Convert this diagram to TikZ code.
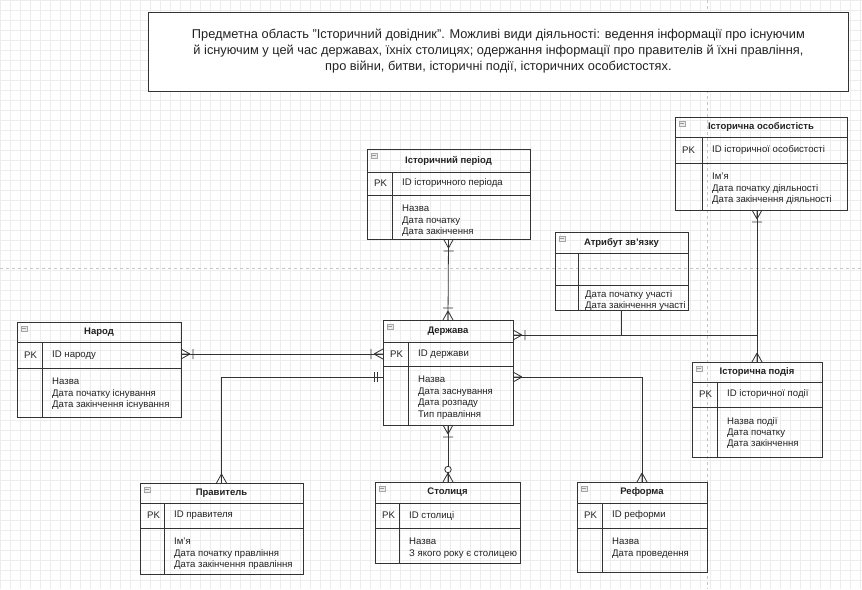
\documentclass[tikz,border=0pt]{standalone}
\usepackage{fontspec}
\setmainfont{Liberation Sans}
\usetikzlibrary{calc}
\definecolor{ln}{HTML}{333333}
\definecolor{tx}{HTML}{222222}
\definecolor{gridc}{HTML}{EDEDED}
\tikzset{
  ebox/.style={draw=ln, line width=0.8pt, inner sep=0pt, outer sep=0pt},
  eline/.style={draw=ln, line width=0.8pt},
  conn/.style={draw=ln, line width=0.8pt},
  ttl/.style={font=\fontsize{9.5}{11}\selectfont\bfseries, text=tx, inner sep=0pt},
  fld/.style={font=\fontsize{9.6}{11.4}\selectfont, text=tx, inner sep=0pt, align=left},
  manyE/.pic={\draw[conn] (0,-5)--(9,0) (0,5)--(9,0) (0,0)--(9,0) (12,-5)--(12,5);},
  crowE/.pic={\draw[conn] (0,-5)--(9,0) (0,5)--(9,0) (0,0)--(9,0);},
  oneE/.pic={\draw[conn] (6,-5)--(6,5) (9,-5)--(9,5);},
  zmanyE/.pic={\draw[conn] (0,-5)--(9,0) (0,5)--(9,0) (0,0)--(9,0); \draw[conn,fill=white] (12.5,0) circle (3.2);},
}
% name, x1, y1, x2, y2, yh, ypk, xd
\newcommand\erbox[8]{%
  \node[ebox, minimum width={#4-#2}, minimum height={#5-#3}, anchor=north west] (#1) at (#2,#3) {};
  \draw[eline] (#2,#6) -- (#4,#6) (#2,#7) -- (#4,#7) (#8,#6) -- (#8,#5);
  \coordinate (#1-t) at ({(#2+#4)/2},{(#3+#6)/2});
  \coordinate (#1-pk) at ({#2+7},{(#6+#7)/2});
  \coordinate (#1-id) at ({#8+10},{(#6+#7)/2});
  \coordinate (#1-b) at ({#8+10},{#7+10});
  \draw[gray!70, line width=0.5pt, fill=gray!15] ({#2+4},{#3+4}) rectangle ({#2+10},{#3+9});
  \draw[gray!80, line width=0.5pt] ({#2+5},{#3+6.5}) -- ({#2+9},{#3+6.5});
}
\begin{document}
\begin{tikzpicture}[x=1pt,y=-1pt]
\fill[white] (0,0) rectangle (862,589);
\useasboundingbox (0,0) rectangle (862,589);
\draw[gridc, line width=0.4pt, step=10pt] (0,0) grid (862,589);
\draw[gray!45, dashed, line width=0.6pt] (0,268) -- (862,268);
\draw[gray!45, dashed, line width=0.6pt] (707,0) -- (707,589);

% description box
\node[draw=ln, line width=0.8pt, fill=white, minimum width=700pt, minimum height=79pt, anchor=north west, inner sep=0pt] (desc) at (148,12) {};
\node[font=\fontsize{12.8}{15.8}\selectfont, text=tx, align=center] (desct) at ($(desc.center)+(0,-1)$) {Предметна область "Історичний довідник". Можливі види діяльності: ведення інформації про існуючим\\й існуючим у цей час державах, їхніх столицях; одержання інформації про правителів й їхні правління,\\про війни, битви, історичні події, історичних особистостях.};

% entities
\erbox{per}{367}{149}{530}{239}{172}{195}{392}
\node[ttl] at (per-t) {Історичний період};
\node[fld, anchor=west] at (per-pk) {PK};
\node[fld, anchor=west] at (per-id) {ID історичного періода};
\node[fld, anchor=north west] at (per-b) {Назва\\Дата початку\\Дата закінчення};

\erbox{osob}{675}{117}{847}{210}{137}{163}{702}
\node[ttl] at (osob-t) {Історична особистість};
\node[fld, anchor=west] at (osob-pk) {PK};
\node[fld, anchor=west] at (osob-id) {ID історичної особистості};
\node[fld, anchor=north west] at (osob-b) {Ім'я\\Дата початку діяльності\\Дата закінчення діяльності};

\erbox{atr}{555}{232}{688}{310}{253}{285}{578}
\node[ttl] at (atr-t) {Атрибут зв'язку};
\node[fld, anchor=north west] at ($(atr-b)+(-3,-5)$) {Дата початку участі\\Дата закінчення участі};

\erbox{nar}{17}{322}{181}{417}{342}{368}{42}
\node[ttl] at (nar-t) {Народ};
\node[fld, anchor=west] at (nar-pk) {PK};
\node[fld, anchor=west] at (nar-id) {ID народу};
\node[fld, anchor=north west] at (nar-b) {Назва\\Дата початку існування\\Дата закінчення існування};

\erbox{der}{383}{320}{513}{425}{342}{366}{408}
\node[ttl] at (der-t) {Держава};
\node[fld, anchor=west] at (der-pk) {PK};
\node[fld, anchor=west] at (der-id) {ID держави};
\node[fld, anchor=north west] at (der-b) {Назва\\Дата заснування\\Дата розпаду\\Тип правління};

\erbox{pod}{692}{362}{822}{457}{382}{407}{717}
\node[ttl] at (pod-t) {Історична подія};
\node[fld, anchor=west] at (pod-pk) {PK};
\node[fld, anchor=west] at (pod-id) {ID історичної події};
\node[fld, anchor=north west] at (pod-b) {Назва події\\Дата початку\\Дата закінчення};

\erbox{prav}{140}{483}{303}{574}{503}{528}{164}
\node[ttl] at (prav-t) {Правитель};
\node[fld, anchor=west] at (prav-pk) {PK};
\node[fld, anchor=west] at (prav-id) {ID правителя};
\node[fld, anchor=north west] at (prav-b) {Ім'я\\Дата початку правління\\Дата закінчення правління};

\erbox{stol}{375}{482}{520}{563}{503}{528}{399}
\node[ttl] at (stol-t) {Столиця};
\node[fld, anchor=west] at (stol-pk) {PK};
\node[fld, anchor=west] at (stol-id) {ID столиці};
\node[fld, anchor=north west] at (stol-b) {Назва\\З якого року є столицею};

\erbox{ref}{577}{482}{707}{572}{503}{528}{602}
\node[ttl] at (ref-t) {Реформа};
\node[fld, anchor=west] at (ref-pk) {PK};
\node[fld, anchor=west] at (ref-id) {ID реформи};
\node[fld, anchor=north west] at (ref-b) {Назва\\Дата проведення};

% connectors
\coordinate (derW1) at ($(der.north west)+(0,34)$);
\coordinate (derW2) at ($(der.north west)+(0,57)$);
\coordinate (derE1) at ($(der.north east)+(0,15)$);
\coordinate (derE2) at ($(der.north east)+(0,57)$);
\coordinate (podJ) at (pod.north |- derE1);

\draw[conn] (per.south) -- (der.north);
\pic[rotate=-90] at (per.south) {manyE};
\pic[rotate=90] at (der.north) {manyE};

\draw[conn] (nar.east |- derW1) -- (derW1);
\pic at (nar.east |- derW1) {manyE};
\pic[rotate=180] at (derW1) {manyE};

\draw[conn] (prav.north) |- (derW2);
\pic[rotate=90] at (prav.north) {crowE};
\pic[rotate=180] at (derW2) {oneE};

\draw[conn] (der.south) -- (der.south |- stol.north);
\pic[rotate=-90] at (der.south) {manyE};
\pic[rotate=90] at (der.south |- stol.north) {zmanyE};

\draw[conn] (derE2) -| (ref.north);
\pic at (derE2) {crowE};
\pic[rotate=90] at (ref.north) {crowE};

\draw[conn] (derE1) -- (podJ);
\pic at (derE1) {manyE};

\draw[conn] (osob.south -| pod.north) -- (pod.north);
\pic[rotate=-90] at (osob.south -| pod.north) {manyE};
\pic[rotate=90] at (pod.north) {crowE};

\draw[conn] (atr.south) -- (atr.south |- derE1);
\end{tikzpicture}
\end{document}
